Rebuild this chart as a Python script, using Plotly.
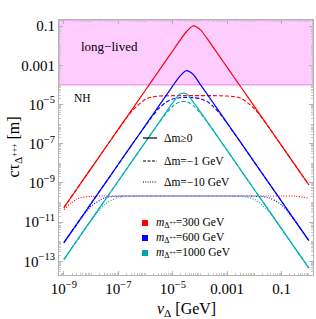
import plotly.graph_objects as go

# ---- data ----
log10_v = [-9, -8.5, -8, -7.5, -7, -6.5, -6, -5.75, -5.5, -5.25, -5, -4.75, -4.5,
           -4.25, -4, -3.75, -3.5, -3.25, -3, -2.75, -2.5, -2, -1.5, -1, -0.5, 0]

# log10(c*tau / m)
red_solid = [-10.26, -9.26, -8.26, -7.26, -6.26, -5.26, -4.26, -3.76, -3.26, -2.76, -2.26, -1.76, -1.29,
             -0.99, -1.17, -1.62, -2.11, -2.61, -3.11, -3.61, -4.11, -5.11, -6.11, -7.11, -8.11, -9.11]
red_dashed = [-10.26, -9.26, -8.26, -7.26, -6.27, -5.34, -4.73, -4.62, -4.57, -4.56, -4.55, -4.55, -4.55,
              -4.55, -4.55, -4.55, -4.55, -4.555, -4.57, -4.60, -4.68, -5.22, -6.12, -7.11, -8.11, -9.11]
red_dotted = [-10.36, -9.81, -9.69, -9.67, -9.67, -9.67, -9.67, -9.67, -9.67, -9.67, -9.67, -9.67, -9.67,
              -9.67, -9.67, -9.67, -9.67, -9.67, -9.67, -9.67, -9.67, -9.67, -9.67, -9.67, -9.68, -9.78]

blue_solid = [-12.05, -11.05, -10.05, -9.05, -8.05, -7.05, -6.05, -5.55, -5.05, -4.55, -4.05, -3.58, -3.27,
              -3.47, -3.96, -4.45, -4.95, -5.45, -5.95, -6.45, -6.95, -7.95, -8.95, -9.95, -10.95, -11.95]
blue_dashed = [-12.05, -11.05, -10.05, -9.05, -8.05, -7.05, -6.07, -5.60, -5.19, -4.89, -4.72, -4.66, -4.64,
               -4.65, -4.71, -4.84, -5.12, -5.51, -5.97, -6.46, -6.95, -7.95, -8.95, -9.95, -10.95, -11.95]
blue_dotted = [-12.05, -11.07, -10.20, -9.76, -9.68, -9.67, -9.67, -9.67, -9.67, -9.67, -9.67, -9.67, -9.67,
               -9.67, -9.67, -9.67, -9.67, -9.67, -9.67, -9.67, -9.67, -9.68, -9.75, -10.13, -10.97, -11.95]

cyan_solid = [-12.9, -11.9, -10.9, -9.9, -8.9, -7.9, -6.9, -6.4, -5.9, -5.40, -4.91, -4.48, -4.45,
              -4.87, -5.35, -5.85, -6.35, -6.85, -7.35, -7.85, -8.35, -9.35, -10.35, -11.35, -12.35, -13.35]
cyan_dashed = [-12.9, -11.9, -10.9, -9.9, -8.9, -7.9, -6.90, -6.41, -5.92, -5.47, -5.09, -4.87, -4.86,
               -5.06, -5.42, -5.87, -6.36, -6.85, -7.35, -7.85, -8.35, -9.35, -10.35, -11.35, -12.35, -13.35]
cyan_dotted = [-12.9, -11.90, -10.92, -10.10, -9.74, -9.68, -9.67, -9.67, -9.67, -9.67, -9.67, -9.67, -9.67,
               -9.67, -9.67, -9.67, -9.67, -9.67, -9.67, -9.68, -9.69, -9.84, -10.43, -11.36, -12.35, -13.35]

long_lived_threshold = 1e-4  # m

x_tickvals = [1e-9, 1e-7, 1e-5, 1e-3, 1e-1]
x_ticktext = ["10<sup>\u22129</sup>", "10<sup>\u22127</sup>", "10<sup>\u22125</sup>", "0.001", "0.1"]
y_tickvals = [1e-1, 1e-3, 1e-5, 1e-7, 1e-9, 1e-11, 1e-13]
y_ticktext = ["0.1", "0.001", "10<sup>\u22125</sup>", "10<sup>\u22127</sup>", "10<sup>\u22129</sup>",
              "10<sup>\u221211</sup>", "10<sup>\u221213</sup>"]

mass_labels = ["300", "600", "1000"]
style_labels = ["\u0394m\u22650", "\u0394m=\u22121 GeV", "\u0394m=\u221210 GeV"]

RED = "rgb(255,0,0)"
BLUE = "rgb(0,0,255)"
CYAN = "rgb(0,178,178)"
FONT = "Liberation Serif"

v_delta = [10 ** e for e in log10_v]

fig = go.Figure()

dash_map = {"solid": "solid", "dashed": "4px,2px", "dotted": "1px,1.6px"}
series = [
    (red_solid, RED, "solid"), (red_dashed, RED, "dashed"), (red_dotted, RED, "dotted"),
    (blue_solid, BLUE, "solid"), (blue_dashed, BLUE, "dashed"), (blue_dotted, BLUE, "dotted"),
    (cyan_solid, CYAN, "solid"), (cyan_dashed, CYAN, "dashed"), (cyan_dotted, CYAN, "dotted"),
]
for vals, col, sty in series:
    fig.add_trace(go.Scatter(
        x=v_delta, y=[10 ** e for e in vals], mode="lines",
        line=dict(color=col, width=1.2 if sty == "solid" else 1.1, dash=dash_map[sty],
                  shape="spline", smoothing=0.8),
        showlegend=False, hoverinfo="skip"))

# long-lived region
fig.add_shape(type="rect", xref="paper", x0=0, x1=1, yref="y",
              y0=long_lived_threshold, y1=10 ** -0.69,
              fillcolor="rgb(255,204,255)", line=dict(color="rgb(232,128,232)", width=1),
              layer="below")

annotations = [
    dict(x=-7.31, y=-2.02, xref="x", yref="y", text="long\u2212lived", showarrow=False,
         font=dict(family=FONT, size=13, color="black")),
    dict(x=-8.30, y=-4.67, xref="x", yref="y", text="NH", showarrow=False,
         font=dict(family=FONT, size=11.5, color="black")),
]

# legends in plot-area pixel terms
PX0, PW, PY0, PH = 59, 254, 275, 255
def px(x):
    return (x - PX0) / PW
def py(y):
    return (PY0 - y) / PH

style_y = [138, 161, 182]
style_dash = ["solid", "3px,1.5px", "1px,1.3px"]
for lab, yy, d in zip(style_labels, style_y, style_dash):
    fig.add_shape(type="line", xref="paper", yref="paper", x0=px(143), x1=px(157),
                  y0=py(yy), y1=py(yy), line=dict(color="black", width=1.2, dash=d))
    annotations.append(dict(x=px(162), y=py(yy), xref="paper", yref="paper", text=lab,
                            showarrow=False, xanchor="left", yanchor="middle",
                            font=dict(family=FONT, size=11.5, color="black")))

mass_y = [223, 238, 253]
for lab, yy, col in zip(mass_labels, mass_y, [RED, BLUE, "rgb(0,165,165)"]):
    fig.add_shape(type="rect", xref="paper", yref="paper", x0=px(142), x1=px(148),
                  y0=py(yy + 3), y1=py(yy - 3), fillcolor=col, line=dict(width=0))
    annotations.append(dict(x=px(154), y=py(yy), xref="paper", yref="paper",
                            text="<i>m</i><sub>\u0394<sup>++</sup></sub>=" + lab + " GeV",
                            showarrow=False, xanchor="left", yanchor="middle",
                            font=dict(family=FONT, size=11.5, color="black")))

# axis titles
annotations.append(dict(x=0.5, y=py(309), xref="paper", yref="paper",
                        text="<i>v</i><sub>\u0394</sub> [GeV]", showarrow=False,
                        xanchor="center", yanchor="middle",
                        font=dict(family=FONT, size=16, color="black")))
annotations.append(dict(x=px(14), y=0.5, xref="paper", yref="paper", textangle=-90,
                        text="c\u03c4<sub>\u0394<sup>+++</sup></sub> [m]", showarrow=False,
                        xanchor="center", yanchor="middle",
                        font=dict(family=FONT, size=16, color="black")))

axis_common = dict(
    type="log", showgrid=False, zeroline=False, showline=True, linecolor="#b4b4b4",
    linewidth=1, mirror="ticks", ticks="inside", ticklen=4, tickcolor="#b4b4b4",
    automargin=False,
    tickfont=dict(family=FONT, size=15, color="black"),
    minor=dict(ticks="inside", ticklen=2, tickcolor="#c8c8c8", dtick="D1", showgrid=False),
)

fig.update_layout(
    width=316, height=319,
    margin=dict(l=59, r=3, t=20, b=44),
    paper_bgcolor="white", plot_bgcolor="white",
    xaxis=dict(range=[-9.18, 0.15], tickmode="array", tickvals=x_tickvals, ticktext=x_ticktext,
               **axis_common),
    yaxis=dict(range=[-13.7, -0.69], tickmode="array", tickvals=y_tickvals, ticktext=y_ticktext,
               **axis_common),
    annotations=annotations,
    showlegend=False,
)

fig.write_html("out.html", config={"displayModeBar": False},
               post_script="document.body.style.margin='0px';document.body.style.overflow='hidden';")
